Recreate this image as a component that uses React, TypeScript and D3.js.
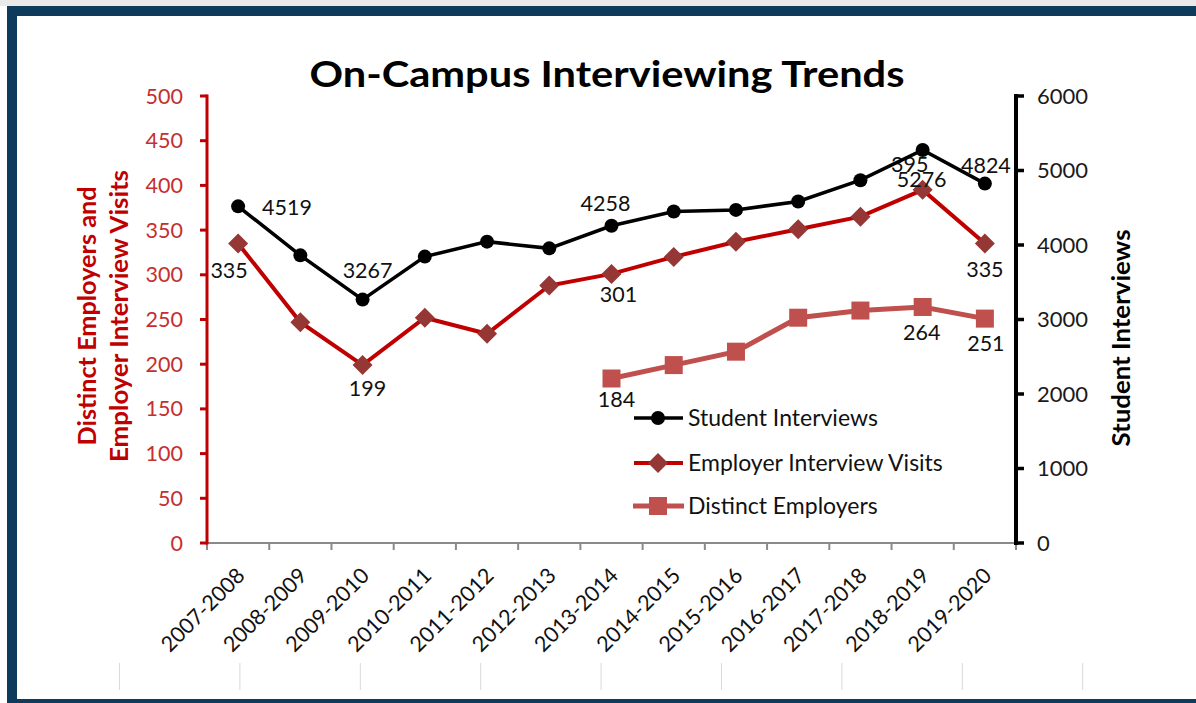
import React from "react";
import * as d3 from "d3";

const categories = [
  "2007-2008", "2008-2009", "2009-2010", "2010-2011", "2011-2012", "2012-2013",
  "2013-2014", "2014-2015", "2015-2016", "2016-2017", "2017-2018", "2018-2019", "2019-2020",
];
const studentInterviews = [4519, 3861, 3267, 3844, 4045, 3955, 4258, 4449, 4471, 4584, 4870, 5276, 4824];
const employerVisits = [335, 247, 199, 252, 234, 288, 301, 320, 337, 351, 365, 395, 335];
const distinctEmployers: (number | null)[] = [null, null, null, null, null, null, 184, 199, 214, 252, 260, 264, 251];
const leftTicks = [0, 50, 100, 150, 200, 250, 300, 350, 400, 450, 500];
const rightTicks = [0, 1000, 2000, 3000, 4000, 5000, 6000];

// label placement: series, index, offset from point (dx, dy)
const labelSpecs: [string, number, number, number, string][] = [
  ["student", 0, 24, 1, "start"],
  ["student", 2, 5, -29, "middle"],
  ["student", 6, -6, -22, "middle"],
  ["student", 11, -1, 30, "middle"],
  ["student", 12, 1, -18, "middle"],
  ["employer", 0, -9, 27, "middle"],
  ["employer", 2, 5, 23, "middle"],
  ["employer", 6, 7, 21, "middle"],
  ["employer", 11, -13, -25, "middle"],
  ["employer", 12, 0, 26, "middle"],
  ["distinct", 6, 5, 21, "middle"],
  ["distinct", 11, -1, 25, "middle"],
  ["distinct", 12, 1, 25, "middle"],
];

const FONT = "Lato, 'Open Sans', sans-serif";

export default function App() {
  const W = 1196, H = 703;
  const x0 = 207, x1 = 1016, yTop = 96, yBot = 543;
  const x = d3.scaleBand<string>().domain(categories).range([x0, x1]).paddingInner(0).paddingOuter(0);
  const cx = (i: number) => (x(categories[i]) as number) + x.bandwidth() / 2;
  const yL = d3.scaleLinear().domain([0, 500]).range([yBot, yTop]);
  const yR = d3.scaleLinear().domain([0, 6000]).range([yBot, yTop]);

  const lineS = d3.line<number>().x((_, i) => cx(i)).y((d) => yR(d));
  const lineE = d3.line<number>().x((_, i) => cx(i)).y((d) => yL(d));
  const lineD = d3
    .line<number | null>()
    .defined((d) => d != null)
    .x((_, i) => cx(i))
    .y((d) => yL(d as number));

  const valueOf = (s: string, i: number) =>
    s === "student" ? studentInterviews[i] : s === "employer" ? employerVisits[i] : (distinctEmployers[i] as number);
  const yOf = (s: string, v: number) => (s === "student" ? yR(v) : yL(v));

  const boundaries = d3.range(categories.length + 1).map((i) => x0 + i * x.bandwidth());
  const gridLines = d3.range(9).map((i) => 119.5 + i * 120.4);

  const diamond = (px: number, py: number, r: number) =>
    `M${px},${py - r}L${px + r},${py}L${px},${py + r}L${px - r},${py}Z`;

  const legendItems = [
    { name: "Student Interviews", kind: "circle" },
    { name: "Employer Interview Visits", kind: "diamond" },
    { name: "Distinct Employers", kind: "square" },
  ];
  const legendY = [418, 463, 506];

  return (
    <svg width={W} height={H} style={{ position: "absolute", left: 0, top: 0, background: "#fff" }} fontFamily={FONT}>
      <rect x={0} y={0} width={W} height={6} fill="#e9e9e9" />
      <rect x={7} y={6} width={W - 7} height={10} fill="#0e3b5c" />
      <rect x={7} y={6} width={10} height={H - 6} fill="#0e3b5c" />
      <rect x={7} y={699} width={W - 7} height={4} fill="#0e3b5c" />

      {gridLines.map((gx, i) => (
        <line key={i} x1={gx} x2={gx} y1={663} y2={690} stroke="#d9d9d9" strokeWidth={1} />
      ))}

      <text x={607} y={87} textAnchor="middle" fontSize={36} fontWeight="bold" fill="#000" textLength={595} lengthAdjust="spacingAndGlyphs">
        On-Campus Interviewing Trends
      </text>

      {/* x axis */}
      <line x1={x0} x2={x1} y1={yBot} y2={yBot} stroke="#8a8a8a" strokeWidth={2} />
      {boundaries.map((bx, i) => (
        <line key={i} x1={bx} x2={bx} y1={yBot} y2={yBot + 7} stroke="#8a8a8a" strokeWidth={2} />
      ))}
      {categories.map((c, i) => (
        <text key={c} transform={`translate(${cx(i) + 8},${577}) rotate(-45)`} textAnchor="end" fontSize={21.5} fill="#111">
          {c}
        </text>
      ))}

      {/* left axis */}
      <line x1={x0} x2={x0} y1={yTop - 1.5} y2={yBot + 1.5} stroke="#c00000" strokeWidth={3} />
      {leftTicks.map((t) => (
        <g key={t}>
          <line x1={x0 - 7} x2={x0} y1={yL(t)} y2={yL(t)} stroke="#c00000" strokeWidth={3} />
          <text x={183} y={yL(t)} dy="0.35em" textAnchor="end" fontSize={21.5} fill="#c62f2f">
            {t}
          </text>
        </g>
      ))}
      <text transform={`translate(96,316) rotate(-90)`} textAnchor="middle" fontSize={24} fontWeight="bold" fill="#c00000" textLength={259} lengthAdjust="spacingAndGlyphs">
        Distinct Employers and
      </text>
      <text transform={`translate(128,316) rotate(-90)`} textAnchor="middle" fontSize={24} fontWeight="bold" fill="#c00000" textLength={292} lengthAdjust="spacingAndGlyphs">
        Employer Interview Visits
      </text>

      {/* right axis */}
      <line x1={x1} x2={x1} y1={yTop - 2} y2={yBot + 2} stroke="#000" strokeWidth={4} />
      {rightTicks.map((t) => (
        <g key={t}>
          <line x1={x1} x2={x1 + 8} y1={yR(t)} y2={yR(t)} stroke="#000" strokeWidth={3.5} />
          <text x={1037} y={yR(t)} dy="0.35em" textAnchor="start" fontSize={22} fill="#1a1a1a">
            {t}
          </text>
        </g>
      ))}
      <text transform={`translate(1130,338) rotate(-90)`} textAnchor="middle" fontSize={24} fontWeight="bold" fill="#000" textLength={217} lengthAdjust="spacingAndGlyphs">
        Student Interviews
      </text>

      {/* distinct employers */}
      <path d={lineD(distinctEmployers) || ""} fill="none" stroke="#c0504d" strokeWidth={5} />
      {distinctEmployers.map((d, i) =>
        d == null ? null : <rect key={i} x={cx(i) - 9} y={yL(d) - 9} width={18} height={18} fill="#c0504d" />
      )}

      {/* employer visits */}
      <path d={lineE(employerVisits) || ""} fill="none" stroke="#c00000" strokeWidth={4} />
      {employerVisits.map((d, i) => (
        <path key={i} d={diamond(cx(i), yL(d), 10)} fill="#953735" />
      ))}

      {/* labels */}
      {labelSpecs.map(([s, i, dx, dy, anchor], k) => {
        const v = valueOf(s, i);
        return (
          <text key={k} x={cx(i) + dx} y={yOf(s, v) + dy} dy="0.35em" textAnchor={anchor} fontSize={21.5} fill="#111">
            {v}
          </text>
        );
      })}

      {/* student interviews */}
      <path d={lineS(studentInterviews) || ""} fill="none" stroke="#000" strokeWidth={3.5} />
      {studentInterviews.map((d, i) => (
        <circle key={i} cx={cx(i)} cy={yR(d)} r={7} fill="#000" />
      ))}

      {/* legend */}
      {legendItems.map((it, k) => {
        const ly = legendY[k];
        return (
          <g key={it.name}>
            {it.kind === "circle" && (
              <>
                <line x1={634} x2={683} y1={ly} y2={ly} stroke="#000" strokeWidth={3.5} />
                <circle cx={658} cy={ly} r={7} fill="#000" />
              </>
            )}
            {it.kind === "diamond" && (
              <>
                <line x1={634} x2={683} y1={ly} y2={ly} stroke="#c00000" strokeWidth={4} />
                <path d={diamond(658, ly, 10)} fill="#953735" />
              </>
            )}
            {it.kind === "square" && (
              <>
                <line x1={633} x2={684} y1={ly} y2={ly} stroke="#c0504d" strokeWidth={5} />
                <rect x={649} y={ly - 9} width={18} height={18} fill="#c0504d" />
              </>
            )}
            <text x={688} y={ly} dy="0.35em" fontSize={23} fill="#111">
              {it.name}
            </text>
          </g>
        );
      })}
    </svg>
  );
}
